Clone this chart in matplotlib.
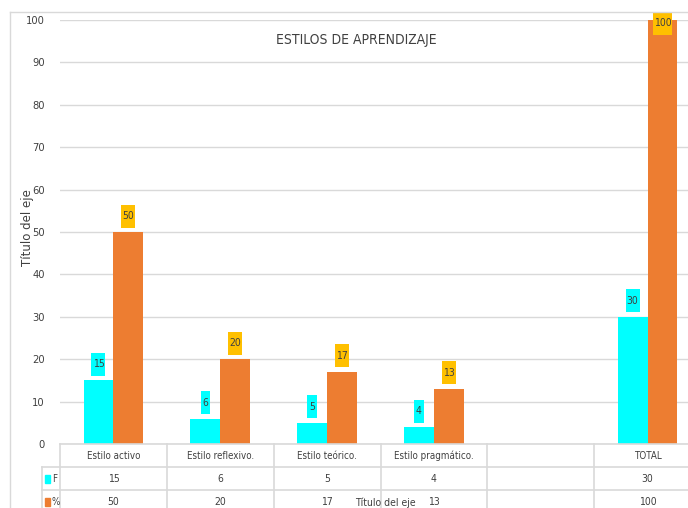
import matplotlib
matplotlib.use("Agg")
import matplotlib.pyplot as plt
from matplotlib.lines import Line2D
from matplotlib.patches import Rectangle
import numpy as np

categories = ["Estilo activo", "Estilo reflexivo.", "Estilo teórico.", "Estilo pragmático.", "", "TOTAL"]
f_values = [15, 6, 5, 4, None, 30]
pct_values = [50, 20, 17, 13, None, 100]
series_names = ["F", "%"]
title = "ESTILOS DE APRENDIZAJE"
axis_title = "Título del eje"
yticks = list(range(0, 101, 10))

NARROW = dict(family="DejaVu Sans", stretch="condensed")
C_F = "#00FFFF"
C_P = "#ED7D31"
C_LBL = "#FFC000"
TXT = "#404040"
GRID = "#D9D9D9"

W, H = 688, 508
fig = plt.figure(figsize=(W / 100, H / 100), dpi=100)
fig.patch.set_facecolor("white")

def fx(px):
    return px / W

def fy(py):
    return 1 - py / H

ax_left, ax_right, ax_top, ax_bot = 60, 701, 20, 444
ax = fig.add_axes([fx(ax_left), fy(ax_bot), fx(ax_right - ax_left), (ax_bot - ax_top) / H])
ax.set_facecolor("none")
ax.set_xlim(-0.5, len(categories) - 0.5)
ax.set_ylim(0, 100)
ax.set_yticks(yticks)
ax.set_yticklabels([str(t) for t in yticks], fontsize=8, color=TXT, **NARROW)
ax.tick_params(axis="y", length=0, pad=11)
ax.set_xticks([])
for s in ax.spines.values():
    s.set_visible(False)
ax.grid(axis="y", color=GRID, linewidth=1)
ax.set_axisbelow(True)

x = np.arange(len(categories))
bw = 0.28
for i, (fv, pv) in enumerate(zip(f_values, pct_values)):
    if fv is not None:
        ax.bar(x[i] - bw / 2, fv, width=bw, color=C_F, zorder=3)
    if pv is not None:
        ax.bar(x[i] + bw / 2, pv, width=bw, color=C_P, zorder=3)

colw = (ax_right - ax_left) / len(categories)   # px per x unit
pxy = (ax_bot - ax_top) / 100.0                 # px per y unit

def label(xc, v, bg):
    off = 16 if v < 95 else -3.5
    yc = v + off / pxy
    wpx = 5 + 4.5 * len(str(v))
    hpx = 23
    ax.add_patch(Rectangle((xc - wpx / 2 / colw, yc - hpx / 2 / pxy), wpx / colw, hpx / pxy,
                           fc=bg, ec="none", zorder=5, clip_on=False))
    ax.text(xc, yc, str(v), ha="center", va="center", fontsize=7.5, color=TXT,
            zorder=6, clip_on=False, **NARROW)

for i, (fv, pv) in enumerate(zip(f_values, pct_values)):
    if fv is not None:
        label(x[i] - bw / 2, fv, C_F)
    if pv is not None:
        label(x[i] + bw / 2, pv, C_LBL)

# Title
fig.text(fx(356), fy(40), title, ha="center", va="center", fontsize=10, color=TXT, **NARROW)
# Y axis title
fig.text(fx(27), fy(228), axis_title, ha="center", va="center", rotation=90,
         fontsize=8.5, color=TXT, family="DejaVu Sans")

# Outer chart border (partially visible)
LBORDER = "#D9D9D9"
fig.add_artist(Line2D([fx(10), fx(10)], [fy(12), 0], color=LBORDER, lw=1))
fig.add_artist(Line2D([fx(10), 1], [fy(12), fy(12)], color=LBORDER, lw=1))

# Data table
tcol = "#D9D9D9"
fig.add_artist(Line2D([fx(ax_left), 1], [fy(444), fy(444)], color=tcol, lw=1.2))
for yy in (467, 490):
    fig.add_artist(Line2D([fx(42), 1], [fy(yy), fy(yy)], color=tcol, lw=1.2))
fig.add_artist(Line2D([fx(42), fx(42)], [fy(467), 0], color=tcol, lw=1.2))
for k in range(len(categories) + 1):
    xx = ax_left + k * colw
    fig.add_artist(Line2D([fx(xx), fx(xx)], [fy(444), 0], color=tcol, lw=1.2))

for i, c in enumerate(categories):
    xc = ax_left + (i + 0.5) * colw
    fig.text(fx(xc), fy(456), c, ha="center", va="center", fontsize=7, color=TXT, **NARROW)
    fv, pv = f_values[i], pct_values[i]
    if fv is not None:
        fig.text(fx(xc), fy(479), str(fv), ha="center", va="center", fontsize=7.5, color=TXT, **NARROW)
    if pv is not None:
        fig.text(fx(xc), fy(502), str(pv), ha="center", va="center", fontsize=7.5, color=TXT, **NARROW)

for yy, name, col in ((479, series_names[0], C_F), (502, series_names[1], C_P)):
    fig.add_artist(Rectangle((fx(45), fy(yy + 4)), fx(5), 8 / H, color=col, transform=fig.transFigure))
    fig.text(fx(52), fy(yy), name, ha="left", va="center", fontsize=7, color=TXT, **NARROW)

fig.text(fx(385), fy(503), axis_title, ha="center", va="center", fontsize=7.5, color=TXT, **NARROW)

fig.savefig("out.png", dpi=100, facecolor="white")
